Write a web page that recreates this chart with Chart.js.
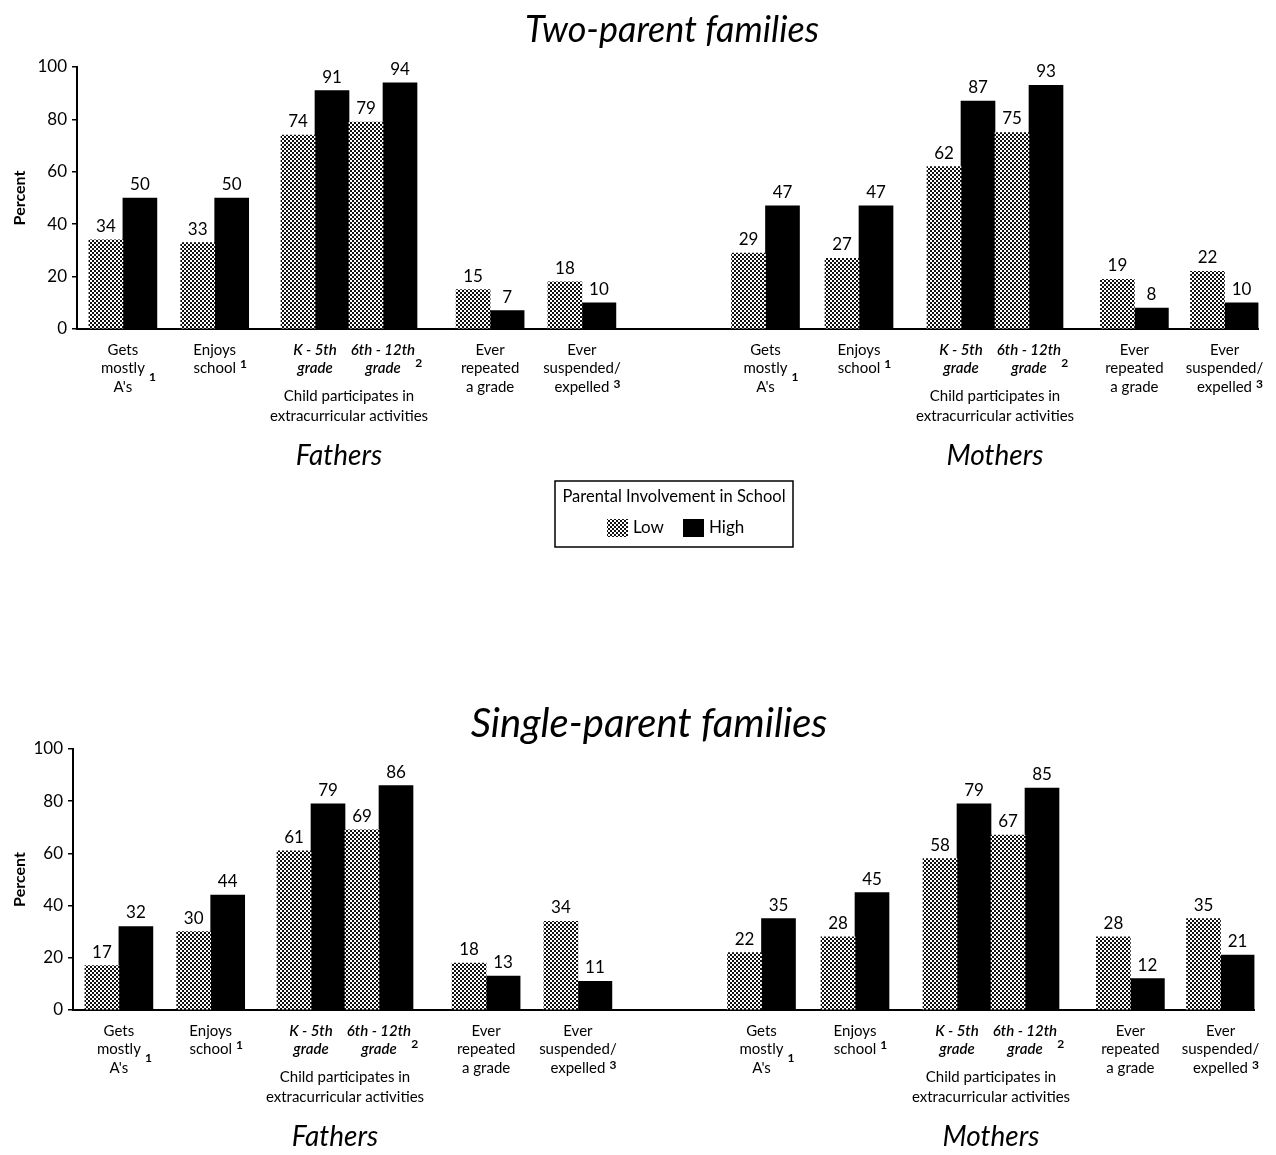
<!DOCTYPE html>
<html>
<head>
<meta charset="utf-8">
<title>Parental involvement in school</title>
<script src="https://cdn.jsdelivr.net/npm/chart.js@4.4.1/dist/chart.umd.min.js"></script>
<style>
  body { margin: 0; background: #fff; width: 1276px; height: 1155px; position: relative; overflow: hidden; }
  canvas { position: absolute; left: 0; }
  #twoParent { top: 0; }
  #singleParent { top: 680px; }
</style>
</head>
<body>
<canvas id="twoParent" width="1276" height="560"></canvas>
<canvas id="singleParent" width="1276" height="475"></canvas>
<script>
// Data
const parents = ["Fathers", "Mothers"];
const categories = ["Gets mostly A's", "Enjoys school", "K - 5th grade", "6th - 12th grade", "Ever repeated a grade", "Ever suspended/expelled"];
const seriesNames = ["Low", "High"];
const legendTitle = "Parental Involvement in School";
const groupNote = ["Child participates in", "extracurricular activities"];
const yTicks = [0, 20, 40, 60, 80, 100];

// fathers (6) then mothers (6)
const twoParentLow = [34, 33, 74, 79, 15, 18, 29, 27, 62, 75, 19, 22];
const twoParentHigh = [50, 50, 91, 94, 7, 10, 47, 47, 87, 93, 8, 10];
const singleParentLow = [17, 30, 61, 69, 18, 34, 22, 28, 58, 67, 28, 35];
const singleParentHigh = [32, 44, 79, 86, 13, 11, 35, 45, 79, 85, 12, 21];

// Label text per category (lines + footnote)
const catLines = [["Gets", "mostly", "A's"], ["Enjoys", "school"], ["K - 5th", "grade"], ["6th - 12th", "grade"], ["Ever", "repeated", "a grade"], ["Ever", "suspended/", "expelled"]];
const catNotes = ["1", "1", "", "2", "", "3"];

// Layout (axis units, one unit = one bar width)
const slotPos = [1.35, 4.05, 7, 9, 12.15, 14.85, 20.25, 23, 26, 28, 31.1, 33.75];
const X_MAX = 34.75;
const catItalic = [false, false, true, true, false, false];
const noteLine = [1, 1, -1, 0, -1, 2];
const noteShift = [9, -4, 0, 13, 0, -3];

const FONT = "Lato, 'DejaVu Sans', sans-serif";
Chart.defaults.font.family = FONT;
Chart.defaults.color = "#000";

// stipple pattern for the "Low" bars
const tile = document.createElement("canvas");
tile.width = 4;
tile.height = 4;
const tctx = tile.getContext("2d");
tctx.fillStyle = "#fff";
tctx.fillRect(0, 0, 4, 4);
tctx.fillStyle = "#111";
tctx.fillRect(0, 0, 2, 2);
tctx.fillRect(2, 2, 2, 2);
const stipple = tctx.createPattern(tile, "repeat");

const panelText = {
    id: "panelText",
    afterDraw(chart, args, opts) {
        const { ctx, chartArea } = chart;
        const x = chart.scales.x;
        const bottom = chartArea.bottom;
        ctx.save();
        ctx.fillStyle = "#000";
        ctx.textAlign = "center";

        // title
        ctx.textBaseline = "middle";
        ctx.font = "italic " + opts.titleSize + "px " + FONT;
        ctx.fillText(opts.title, opts.titleX, opts.titleY);

        // value labels
        ctx.font = "17px " + FONT;
        ctx.textBaseline = "bottom";
        chart.data.datasets.forEach((ds, d) => {
            chart.getDatasetMeta(d).data.forEach((bar, i) => {
                ctx.fillText(String(ds.data[i].y), bar.x, bar.y - 5);
            });
        });

        // category labels
        ctx.textBaseline = "middle";
        slotPos.forEach((pos, i) => {
            const c = i % catLines.length;
            const cx = x.getPixelForValue(pos);
            const f = (catItalic[c] ? "italic 600 " : "") + "15px " + FONT;
            catLines[c].forEach((line, k) => {
                ctx.font = f;
                ctx.textAlign = "center";
                const ly = bottom + 21 + k * 18.5;
                ctx.fillText(line, cx, ly);
                if (catNotes[c] && noteLine[c] === k) {
                    const w = ctx.measureText(line).width;
                    ctx.font = "bold 12px " + FONT;
                    ctx.textAlign = "left";
                    ctx.fillText(catNotes[c], cx + w / 2 + (catItalic[c] ? 0 : 4), ly + noteShift[c]);
                }
            });
        });

        // group notes and parent names
        ctx.textAlign = "center";
        parents.forEach((name, p) => {
            const mid = x.getPixelForValue((slotPos[p * 6 + 2] + slotPos[p * 6 + 3]) / 2);
            ctx.font = "15px " + FONT;
            ctx.fillText(groupNote[0], mid, bottom + 67);
            ctx.fillText(groupNote[1], mid, bottom + 87);
            ctx.font = "italic 28px " + FONT;
            ctx.fillText(name, mid - (p === 0 ? 10 : 0), bottom + 127);
        });

        // legend box
        if (opts.legend) {
            const lg = opts.legend;
            ctx.lineWidth = 1.5;
            ctx.strokeStyle = "#000";
            ctx.strokeRect(lg.x, lg.y, lg.w, lg.h);
            ctx.font = "16.5px " + FONT;
            ctx.fillText(legendTitle, lg.x + lg.w / 2, lg.y + 16);
            let sx = lg.x + 52;
            const sy = lg.y + 38;
            ctx.textAlign = "left";
            ctx.font = "17px " + FONT;
            chart.data.datasets.forEach(ds => {
                ctx.fillStyle = ds.backgroundColor;
                ctx.fillRect(sx, sy, 21, 18);
                ctx.fillStyle = "#000";
                ctx.fillText(ds.label, sx + 26, sy + 9);
                sx += 76;
            });
        }
        ctx.restore();
    }
};

function makePanel(id, title, low, high, L) {
    const ctx = document.getElementById(id).getContext("2d");
    return new Chart(ctx, {
        type: "bar",
        data: {
            datasets: [
                {
                    label: seriesNames[0],
                    data: slotPos.map((pos, i) => ({ x: pos, y: low[i] })),
                    backgroundColor: stipple,
                    borderWidth: 0,
                    categoryPercentage: 1,
                    barPercentage: 1,
                },
                {
                    label: seriesNames[1],
                    data: slotPos.map((pos, i) => ({ x: pos, y: high[i] })),
                    backgroundColor: "#000",
                    borderWidth: 0,
                    categoryPercentage: 1,
                    barPercentage: 1,
                },
            ],
        },
        options: {
            responsive: false,
            animation: false,
            layout: { padding: { top: L.top, right: L.right, left: 0, bottom: 0 } },
            plugins: {
                legend: { display: false },
                tooltip: { enabled: false },
                panelText: { title: title, titleX: L.titleX, titleY: L.titleY, titleSize: L.titleSize, legend: L.legend },
            },
            scales: {
                x: {
                    type: "linear",
                    min: 0,
                    max: X_MAX,
                    offset: false,
                    ticks: { display: false },
                    grid: { display: false },
                    border: { display: true, color: "#000", width: 2 },
                    afterFit: s => { s.height = L.height - L.bottom; },
                },
                y: {
                    min: 0,
                    max: 100,
                    afterBuildTicks: s => { s.ticks = yTicks.map(v => ({ value: v })); },
                    ticks: { color: "#000", font: { size: 17 }, padding: 5 },
                    grid: { drawOnChartArea: false, color: "#000", tickLength: 5, lineWidth: 1.5 },
                    border: { color: "#000", width: 2 },
                    title: { display: true, text: "Percent", color: "#000", font: { size: 16, weight: "bold" }, padding: { top: 10, bottom: 0 } },
                    afterFit: s => { s.width = L.axisLeft; },
                },
            },
        },
        plugins: [panelText],
    });
}

makePanel("twoParent", "Two-parent families", twoParentLow, twoParentHigh, {
    top: 67, bottom: 329, height: 560, axisLeft: 77, right: 17.5,
    titleX: 672, titleY: 30, titleSize: 36,
    legend: { x: 555, y: 481, w: 238, h: 66 },
});

makePanel("singleParent", "Single-parent families", singleParentLow, singleParentHigh, {
    top: 69, bottom: 330, height: 475, axisLeft: 73, right: 21.5,
    titleX: 649, titleY: 44, titleSize: 40,
});
</script>
</body>
</html>
